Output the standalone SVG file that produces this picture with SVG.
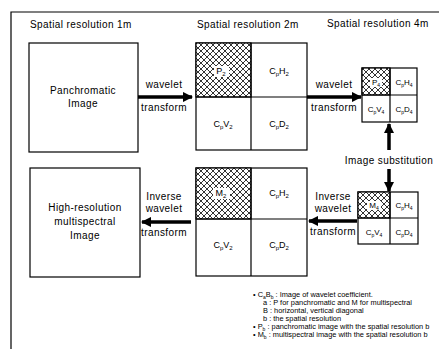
<svg xmlns="http://www.w3.org/2000/svg" width="439" height="349" viewBox="0 0 439 349">
<style>
text{font-family:"Liberation Sans",Arial,sans-serif;fill:#000}
.t{font-size:10px;letter-spacing:0.4px}
.m{font-size:10px;text-anchor:middle;letter-spacing:0.4px}
.c{font-size:9px;text-anchor:middle}
.c4{font-size:8px;text-anchor:middle}
.l{font-size:7.4px}
.box{fill:#fff;stroke:#000;stroke-width:1.2}
.hatch{fill:url(#hx);stroke:#000;stroke-width:1.2}
.ln{stroke:#000;stroke-width:1.2;fill:none}
.ar{stroke:#000;stroke-width:3.5;fill:none}
.bg{fill:#fff}
.s{font-size:6px}
.ss{font-size:5px}
</style>
<defs>
<pattern id="hx" width="6" height="6" patternUnits="userSpaceOnUse">
<rect width="6" height="6" fill="#fff"/>
<path d="M0,0L6,6M6,0L0,6" stroke="#000" stroke-width="0.8"/>
</pattern>
<marker id="ah" viewBox="0 0 10 10" refX="9" refY="5" markerWidth="3" markerHeight="3" orient="auto" markerUnits="strokeWidth">
<path d="M0,0L10,5L0,10z" fill="#000"/>
</marker>
</defs>
<rect width="439" height="349" fill="#fff"/>
<path class="ln" d="M11,349V12H439"/>
<g id="headers">
<text class="t" x="30" y="28">Spatial resolution 1m</text>
<text class="t" x="197" y="28">Spatial resolution 2m</text>
<text class="t" x="327" y="27">Spatial resolution 4m</text>
</g>
<g id="pan">
<rect class="box" x="29" y="43" width="109" height="109"/>
<text class="m" x="83" y="94">Panchromatic</text>
<text class="m" x="83" y="107">Image</text>
</g>
<g id="hires">
<rect class="box" x="30" y="168" width="110" height="109"/>
<text class="m" x="85" y="211">High-resolution</text>
<text class="m" x="85" y="225">multispectral</text>
<text class="m" x="85" y="239">Image</text>
</g>
<g id="pan2">
<rect class="box" x="196" y="43" width="111" height="107"/>
<rect class="hatch" x="196" y="43" width="55" height="54"/>
<path class="ln" d="M251,43V150M196,97H307"/>
<rect class="bg" x="214" y="66" width="15" height="11"/>
<text class="c" x="221" y="74">P<tspan class="s" dy="2">2</tspan></text>
<text class="c" x="279" y="74">C<tspan class="s" dy="2">p</tspan><tspan dy="-2">H</tspan><tspan class="s" dy="2">2</tspan></text>
<text class="c" x="223" y="127">C<tspan class="s" dy="2">p</tspan><tspan dy="-2">V</tspan><tspan class="s" dy="2">2</tspan></text>
<text class="c" x="279" y="127">C<tspan class="s" dy="2">p</tspan><tspan dy="-2">D</tspan><tspan class="s" dy="2">2</tspan></text>
</g>
<g id="ms2">
<rect class="box" x="196" y="168" width="111" height="108"/>
<rect class="hatch" x="196" y="168" width="55" height="51"/>
<path class="ln" d="M251,168V276M196,219H307"/>
<rect class="bg" x="213" y="188" width="17" height="11"/>
<text class="c" x="221" y="196">M<tspan class="s" dy="2">2</tspan></text>
<text class="c" x="279" y="196">C<tspan class="s" dy="2">p</tspan><tspan dy="-2">H</tspan><tspan class="s" dy="2">2</tspan></text>
<text class="c" x="223" y="248">C<tspan class="s" dy="2">p</tspan><tspan dy="-2">V</tspan><tspan class="s" dy="2">2</tspan></text>
<text class="c" x="279" y="248">C<tspan class="s" dy="2">p</tspan><tspan dy="-2">D</tspan><tspan class="s" dy="2">2</tspan></text>
</g>
<g id="pan4">
<rect class="box" x="362" y="68" width="55" height="54"/>
<rect class="hatch" x="362" y="68" width="28" height="27"/>
<path class="ln" d="M390,68V122M362,95H417"/>
<rect class="bg" x="370" y="78" width="12" height="9"/>
<text class="c4" x="376" y="85">P<tspan class="ss" dy="1.5">4</tspan></text>
<text class="c4" x="404" y="85">C<tspan class="ss" dy="1.5">p</tspan><tspan dy="-1.5">H</tspan><tspan class="ss" dy="1.5">4</tspan></text>
<text class="c4" x="376" y="112">C<tspan class="ss" dy="1.5">p</tspan><tspan dy="-1.5">V</tspan><tspan class="ss" dy="1.5">4</tspan></text>
<text class="c4" x="404" y="112">C<tspan class="ss" dy="1.5">p</tspan><tspan dy="-1.5">D</tspan><tspan class="ss" dy="1.5">4</tspan></text>
</g>
<g id="ms4">
<rect class="box" x="358" y="192" width="60" height="52"/>
<rect class="hatch" x="358" y="192" width="32" height="26"/>
<path class="ln" d="M390,192V244M358,218H418"/>
<rect class="bg" x="367" y="201" width="14" height="9"/>
<text class="c4" x="374" y="208">M<tspan class="ss" dy="1.5">4</tspan></text>
<text class="c4" x="404" y="208">C<tspan class="ss" dy="1.5">p</tspan><tspan dy="-1.5">H</tspan><tspan class="ss" dy="1.5">4</tspan></text>
<text class="c4" x="374" y="235">C<tspan class="ss" dy="1.5">p</tspan><tspan dy="-1.5">V</tspan><tspan class="ss" dy="1.5">4</tspan></text>
<text class="c4" x="404" y="235">C<tspan class="ss" dy="1.5">p</tspan><tspan dy="-1.5">D</tspan><tspan class="ss" dy="1.5">4</tspan></text>
</g>
<g id="connectors">
<path class="ar" d="M138,97H192" marker-end="url(#ah)"/>
<path class="ar" d="M307,97H361" marker-end="url(#ah)"/>
<path class="ar" d="M357,221H309" marker-end="url(#ah)"/>
<path class="ar" d="M191,222H142" marker-end="url(#ah)"/>
<path class="ar" d="M389,150V124" marker-end="url(#ah)"/>
<path class="ar" d="M389,169V191" marker-end="url(#ah)"/>
<text class="m" x="164" y="88">wavelet</text>
<text class="m" x="164" y="111">transform</text>
<text class="m" x="334" y="88">wavelet</text>
<text class="m" x="334" y="111">transform</text>
<text class="m" x="389" y="164">Image substitution</text>
<text class="m" x="333" y="200">Inverse</text>
<text class="m" x="333" y="212">wavelet</text>
<text class="m" x="333" y="235">transform</text>
<text class="m" x="164" y="200">Inverse</text>
<text class="m" x="164" y="212">wavelet</text>
<text class="m" x="164" y="236">transform</text>
</g>
<g id="legend">
<text class="l" x="253" y="297">• C<tspan dy="1.5" style="font-size:5px">a</tspan><tspan dy="-1.5">B</tspan><tspan dy="1.5" style="font-size:5px">b</tspan><tspan dy="-1.5"> : Image of wavelet coefficient.</tspan></text>
<text class="l" x="263" y="305">a : P for panchromatic and M for multispectral</text>
<text class="l" x="263" y="313">B : horizontal, vertical diagonal</text>
<text class="l" x="263" y="321">b : the spatial resolution</text>
<text class="l" x="253" y="329">• P<tspan dy="1.5" style="font-size:5px">b</tspan><tspan dy="-1.5">  : panchromatic image with the spatial resolution b</tspan></text>
<text class="l" x="253" y="337">• M<tspan dy="1.5" style="font-size:5px">b</tspan><tspan dy="-1.5">  : multispectral image with the spatial resolution b</tspan></text>
</g>
</svg>
